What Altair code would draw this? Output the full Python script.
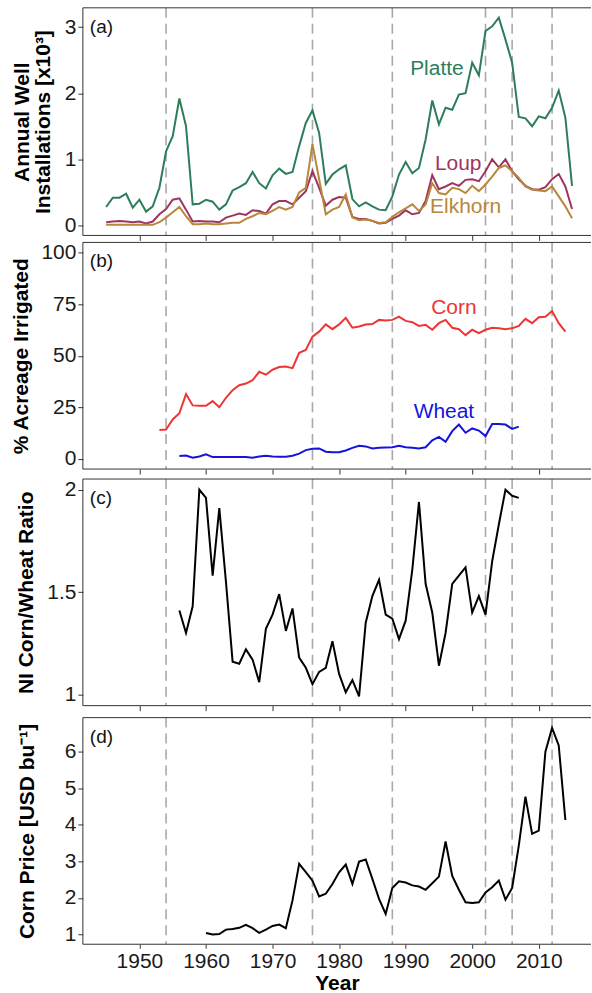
import altair as alt
import pandas as pd

# ---------------- data ----------------
well_years = list(range(1945, 2016))
platte = [0.28, 0.42, 0.42, 0.48, 0.27, 0.39, 0.21, 0.29, 0.57, 1.12,
          1.35, 1.92, 1.50, 0.32, 0.33, 0.39, 0.36, 0.24, 0.32, 0.53,
          0.58, 0.64, 0.81, 0.64, 0.56, 0.76, 0.86, 0.78, 0.81, 1.20,
          1.55, 1.74, 1.40, 0.63, 0.77, 0.85, 0.91, 0.40, 0.29, 0.35,
          0.29, 0.24, 0.23, 0.44, 0.77, 0.96, 0.79, 0.87, 1.30, 1.89,
          1.53, 1.78, 1.75, 1.98, 2.00, 2.46, 2.27, 2.94, 3.01, 3.14,
          2.81, 2.46, 1.64, 1.62, 1.50, 1.65, 1.62, 1.78, 2.04, 1.63,
          0.60]
loup = [0.05, 0.06, 0.07, 0.06, 0.05, 0.06, 0.03, 0.06, 0.17, 0.25,
        0.39, 0.41, 0.24, 0.06, 0.07, 0.06, 0.06, 0.05, 0.12, 0.15,
        0.18, 0.16, 0.23, 0.22, 0.18, 0.32, 0.37, 0.37, 0.32, 0.42,
        0.52, 0.82, 0.57, 0.30, 0.39, 0.43, 0.42, 0.13, 0.10, 0.10,
        0.07, 0.03, 0.04, 0.10, 0.15, 0.23, 0.17, 0.19, 0.37, 0.76,
        0.55, 0.59, 0.64, 0.60, 0.69, 0.70, 0.67, 0.82, 1.00, 0.88,
        1.00, 0.82, 0.70, 0.60, 0.55, 0.54, 0.58, 0.70, 0.78, 0.59,
        0.25]
elkhorn = [0.01, 0.01, 0.01, 0.01, 0.01, 0.01, 0.01, 0.01, 0.05, 0.12,
           0.20, 0.28, 0.14, 0.02, 0.02, 0.03, 0.02, 0.02, 0.03, 0.04,
           0.04, 0.10, 0.14, 0.19, 0.17, 0.22, 0.28, 0.24, 0.28, 0.50,
           0.57, 1.23, 0.70, 0.17, 0.24, 0.28, 0.47, 0.12, 0.08, 0.09,
           0.07, 0.04, 0.05, 0.13, 0.20, 0.26, 0.32, 0.22, 0.32, 0.64,
           0.49, 0.47, 0.57, 0.55, 0.49, 0.60, 0.52, 0.62, 0.74, 0.87,
           0.91, 0.82, 0.72, 0.59, 0.54, 0.53, 0.52, 0.59, 0.44, 0.29,
           0.11]

corn_years = list(range(1953, 2015))
corn_irr = [13.9, 14.2, 19.1, 22.1, 31.4, 25.9, 25.7, 25.7, 28.0, 25.0,
            29.6, 33.3, 35.7, 36.5, 38.1, 42.2, 40.8, 43.2, 44.5, 44.8,
            44.0, 51.4, 52.8, 59.3, 61.7, 65.2, 62.9, 65.2, 68.4, 63.6,
            64.2, 65.2, 65.4, 67.4, 67.1, 67.4, 69.0, 66.9, 66.3, 64.5,
            65.0, 62.6, 65.8, 67.4, 63.6, 62.9, 60.0, 62.6, 61.0, 62.6,
            63.6, 63.3, 62.9, 63.3, 64.5, 67.9, 65.8, 68.7, 68.9, 71.7,
            65.8, 61.7]
wheat_years = list(range(1956, 2008))
wheat_irr = [1.3, 1.6, 0.5, 1.1, 2.1, 0.8, 0.8, 0.8, 0.8, 0.9,
             0.8, 0.5, 1.1, 1.5, 1.1, 1.0, 1.0, 1.5, 2.5, 4.2,
             4.8, 5.0, 3.4, 3.2, 3.2, 4.0, 5.3, 6.3, 6.0, 5.0,
             5.3, 5.5, 5.6, 6.3, 5.6, 5.3, 5.0, 5.6, 8.9, 10.6,
             8.2, 13.4, 16.6, 12.6, 14.7, 13.7, 11.0, 16.9, 16.9, 16.6,
             14.5, 15.6]

ratio_years = list(range(1956, 2008))
ratio = [1.41, 1.30, 1.43, 2.00, 1.96, 1.58, 1.91, 1.55, 1.16, 1.15,
         1.22, 1.17, 1.06, 1.32, 1.39, 1.49, 1.31, 1.42, 1.18, 1.13,
         1.05, 1.11, 1.13, 1.26, 1.10, 1.01, 1.07, 0.99, 1.35, 1.48,
         1.56, 1.39, 1.37, 1.27, 1.36, 1.61, 1.94, 1.54, 1.40, 1.14,
         1.30, 1.54, 1.58, 1.62, 1.40, 1.48, 1.39, 1.65, 1.83, 2.00,
         1.97, 1.96]

price_years = list(range(1960, 2015))
price = [1.04, 1.00, 1.01, 1.13, 1.15, 1.18, 1.26, 1.17, 1.04, 1.13,
         1.23, 1.27, 1.17, 1.93, 2.93, 2.70, 2.47, 2.04, 2.11, 2.38,
         2.70, 2.91, 2.38, 2.99, 3.05, 2.52, 1.97, 1.56, 2.27, 2.45,
         2.42, 2.34, 2.31, 2.22, 2.40, 2.58, 3.54, 2.60, 2.22, 1.88,
         1.86, 1.88, 2.15, 2.29, 2.47, 1.95, 2.27, 3.43, 4.77, 3.75,
         3.84, 6.00, 6.65, 6.17, 4.13]

event_years = [1954, 1976, 1988, 2002, 2006, 2012]
x_ticks = [1950, 1960, 1970, 1980, 1990, 2000, 2010]

well_series = ["Platte", "Loup", "Elkhorn"]
well_colors = ["#2E7D5A", "#9E3560", "#B8873C"]
well_label_year = [1994.7, 1997.9, 1999.0]
well_label_val = [2.36, 0.93, 0.28]

irr_series = ["Corn", "Wheat"]
irr_colors = ["#EE3535", "#1414DD"]
irr_label_year = [1997.25, 1995.75]
irr_label_val = [73.2, 22.9]

# ---------------- helpers ----------------
FONT = "Liberation Sans"
XDOM = [1941.5, 2017.85]
W = 509
FRAME = "#333333"


def xenc(last):
    scale = alt.Scale(domain=XDOM, nice=False, zero=False)
    if last:
        axis = alt.Axis(values=x_ticks, title="Year", labelFontSize=21,
                        titleFontSize=21, titleFontWeight="bold", tickSize=4,
                        labelPadding=2, titlePadding=1, domain=False,
                        grid=False, format="d")
        return alt.X("year:Q", scale=scale, axis=axis)
    axis = alt.Axis(values=x_ticks, labels=False, tickSize=5,
                    domain=False, grid=False)
    return alt.X("year:Q", scale=scale, axis=axis, title=None)


def yenc(domain, values, title, title_x, h):
    axis = alt.Axis(values=values, title=title, titleX=title_x, titleY=h / 2,
                    titleAngle=-90, titleBaseline="middle", titleAlign="center",
                    titleFontSize=21, titleFontWeight="bold", titleLineHeight=21,
                    labelFontSize=21, tickSize=5, labelPadding=2,
                    domain=False, grid=False,
                    labelExpr="toString(datum.value)")
    return alt.Y("value:Q", scale=alt.Scale(domain=domain, nice=False, zero=False),
                 axis=axis)


def panel(series_list, ydef, h, tag, last=False, labels=None):
    """series_list: list of (years, values, colour)."""
    x = xenc(last)
    rules = alt.Chart(pd.DataFrame({"year": event_years})).mark_rule(
        color="#A8A8A8", strokeWidth=1.6, strokeDash=[10, 6]
    ).encode(x=x)
    layers = [rules]
    for yrs, vals, col in series_list:
        df = pd.DataFrame({"year": yrs, "value": vals})
        layers.append(
            alt.Chart(df).mark_line(strokeWidth=2, color=col).encode(x=x, y=ydef)
        )
    if labels is not None:
        for name, yr, val, col in labels:
            df = pd.DataFrame({"series": [name], "year": [yr], "value": [val]})
            layers.append(
                alt.Chart(df).mark_text(fontSize=21, font=FONT, color=col).encode(
                    x=x, y=ydef, text="series:N")
            )
    tag_txt = alt.Chart(pd.DataFrame({"t": [tag]})).mark_text(
        fontSize=19, font=FONT, align="left", baseline="middle", color="#111111"
    ).encode(x=alt.value(7), y=alt.value(19), text="t:N")
    layers.append(tag_txt)
    # panel frame: top, bottom and left edges (right edge lies beyond the page)
    fr = alt.Chart(pd.DataFrame({"k": [0]}))
    layers.append(fr.mark_rule(color=FRAME, strokeWidth=1).encode(
        x=alt.value(0), x2=alt.value(W), y=alt.value(0)))
    layers.append(fr.mark_rule(color=FRAME, strokeWidth=1).encode(
        x=alt.value(0), x2=alt.value(W), y=alt.value(h)))
    layers.append(fr.mark_rule(color=FRAME, strokeWidth=1).encode(
        x=alt.value(0), y=alt.value(0), y2=alt.value(h)))
    return alt.layer(*layers).properties(width=W, height=h)


# ---------------- panel a ----------------
HA = 228
pa = panel(
    [(well_years, platte, well_colors[0]),
     (well_years, loup, well_colors[1]),
     (well_years, elkhorn, well_colors[2])],
    yenc([-0.15, 3.29], [0, 1, 2, 3], ["Annual Well", "Installations [x10³]"], -60, HA),
    HA, "(a)",
    labels=list(zip(well_series, well_label_year, well_label_val, well_colors)))

# ---------------- panel b ----------------
HB = 227
pb = panel(
    [(corn_years, corn_irr, irr_colors[0]),
     (wheat_years, wheat_irr, irr_colors[1])],
    yenc([-5, 105], [0, 25, 50, 75, 100], "% Acreage Irrigated", -61, HB),
    HB, "(b)",
    labels=list(zip(irr_series, irr_label_year, irr_label_val, irr_colors)))

# ---------------- panel c ----------------
HC = 227
pc = panel([(ratio_years, ratio, "#000000")],
           yenc([0.945, 2.052], [1, 1.5, 2], "NI Corn/Wheat Ratio", -56.5, HC),
           HC, "(c)")

# ---------------- panel d ----------------
HD = 227
pdd = panel([(price_years, price, "#000000")],
            yenc([0.73, 6.93], [1, 2, 3, 4, 5, 6], "Corn Price [USD bu⁻¹]", -55.5, HD),
            HD, "(d)", last=True)

top = alt.vconcat(pa, pb, spacing=0)
bottom = alt.vconcat(pc, pdd, spacing=5)
chart = alt.vconcat(top, bottom, spacing=3).properties(
    padding={"left": 10, "top": 6, "right": 0, "bottom": 0}
).configure(font=FONT).configure_view(
    strokeWidth=0
).configure_axis(
    tickColor=FRAME, labelColor="#1a1a1a", titleColor="#000000",
    labelFont=FONT, titleFont=FONT
)

chart.save("out.html", embed_options={"renderer": "svg", "actions": False})
